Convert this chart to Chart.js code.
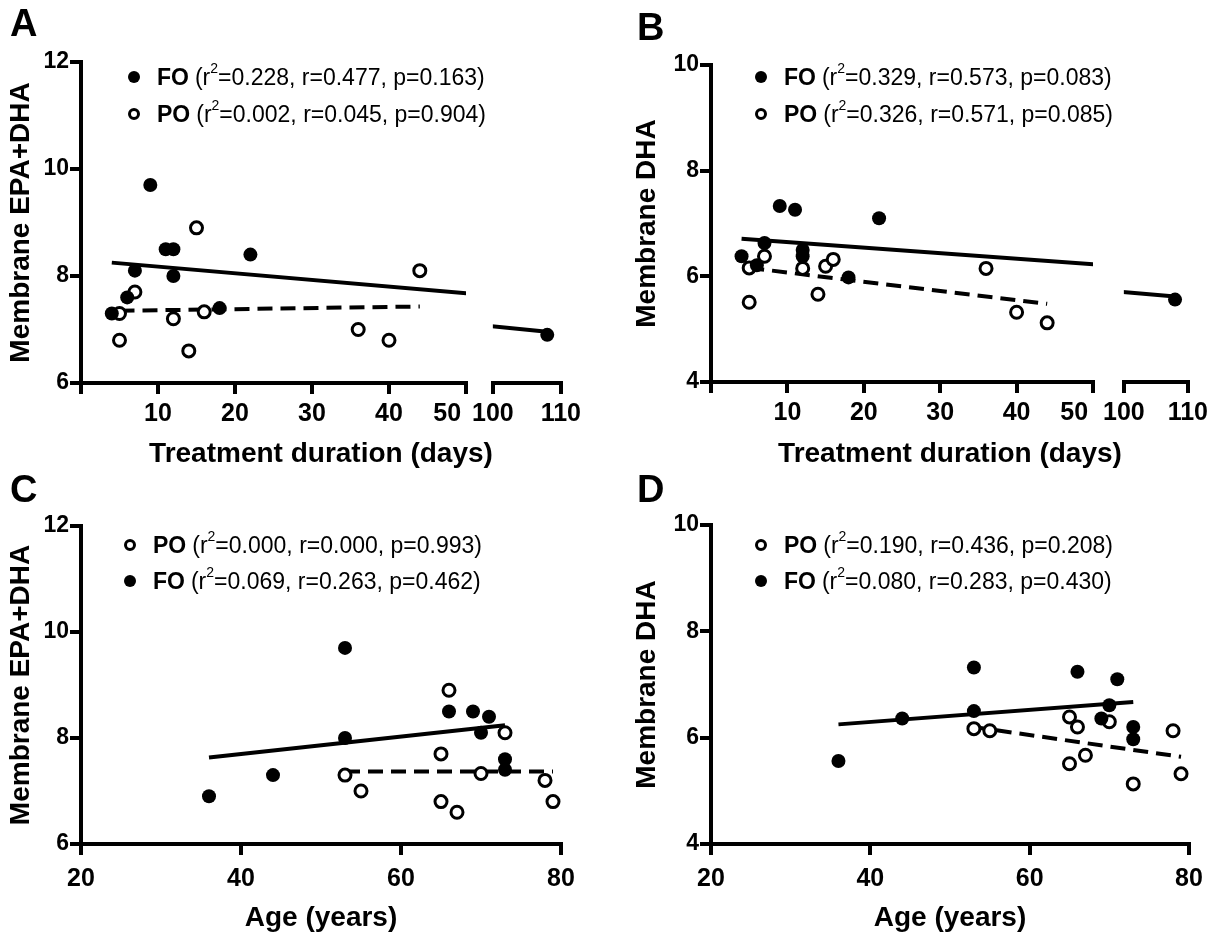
<!DOCTYPE html>
<html lang="en">
<head>
<meta charset="UTF-8">
<title>Membrane EPA+DHA and DHA vs treatment duration and age</title>
<script src="https://cdn.jsdelivr.net/npm/chart.js"></script>
<style>
  body { margin: 0; background: #fff; font-family: "Liberation Sans", Arial, sans-serif; color: #000; }
  #fig { position: relative; width: 1217px; height: 936px; overflow: hidden; background: #fff; }
  canvas { position: absolute; }
  .letter { position: absolute; font-size: 38px; font-weight: bold; line-height: 1; }
  .row { position: absolute; display: flex; align-items: center; height: 26px; font-size: 23px; white-space: nowrap; }
  .row b { margin-right: 6px; }
  .row sup { font-size: 14px; position: relative; top: -9px; vertical-align: baseline; }
  .mk { width: 12px; height: 12px; border-radius: 50%; box-sizing: border-box; margin-right: 17px; }
  .mk.fo { background: #000; }
  .mk.po { background: #fff; border: 3px solid #000; }
  .xtitle { position: absolute; font-size: 28px; font-weight: bold; transform: translate(-50%, -50%); white-space: nowrap; }
</style>
</head>
<body>
<div id="fig">
  <canvas id="aLeft" width="506" height="440" style="left:0px;top:30px"></canvas>
  <canvas id="aRight" width="119" height="440" style="left:467px;top:30px"></canvas>
  <canvas id="bLeft" width="503" height="439" style="left:630px;top:30px"></canvas>
  <canvas id="bRight" width="115" height="439" style="left:1098px;top:30px"></canvas>
  <canvas id="cChart" width="586" height="445" style="left:0px;top:490px"></canvas>
  <canvas id="dChart" width="584" height="445" style="left:630px;top:490px"></canvas>

  <div class="letter" style="left:10px;top:4px">A</div>
  <div class="letter" style="left:637px;top:8px">B</div>
  <div class="letter" style="left:10px;top:470px">C</div>
  <div class="letter" style="left:637px;top:470px">D</div>

  <div class="row" style="left:128px;top:64px"><span class="mk fo"></span><b>FO</b>(r<sup>2</sup>=0.228, r=0.477, p=0.163)</div>
  <div class="row" style="left:128px;top:101px"><span class="mk po"></span><b>PO</b>(r<sup>2</sup>=0.002, r=0.045, p=0.904)</div>
  <div class="row" style="left:755px;top:64px"><span class="mk fo"></span><b>FO</b>(r<sup>2</sup>=0.329, r=0.573, p=0.083)</div>
  <div class="row" style="left:755px;top:101px"><span class="mk po"></span><b>PO</b>(r<sup>2</sup>=0.326, r=0.571, p=0.085)</div>
  <div class="row" style="left:124px;top:532px"><span class="mk po"></span><b>PO</b>(r<sup>2</sup>=0.000, r=0.000, p=0.993)</div>
  <div class="row" style="left:124px;top:568px"><span class="mk fo"></span><b>FO</b>(r<sup>2</sup>=0.069, r=0.263, p=0.462)</div>
  <div class="row" style="left:755px;top:532px"><span class="mk po"></span><b>PO</b>(r<sup>2</sup>=0.190, r=0.436, p=0.208)</div>
  <div class="row" style="left:755px;top:568px"><span class="mk fo"></span><b>FO</b>(r<sup>2</sup>=0.080, r=0.283, p=0.430)</div>

  <div class="xtitle" style="left:321px;top:453px">Treatment duration (days)</div>
  <div class="xtitle" style="left:950px;top:453px">Treatment duration (days)</div>
</div>

<script>
// treatment duration (days), same subjects in A and B
const daysFO = [4, 6, 7, 9, 11, 12, 12, 18, 22, 108];
const daysPO = [5, 5, 7, 12, 14, 15, 16, 36, 40, 44];
// age (years), same subjects in C and D
const ageFO = [36, 44, 53, 53, 66, 69, 71, 70, 73, 73];
const agePO = [53, 55, 65, 66, 65, 67, 70, 73, 78, 79];

// membrane EPA+DHA
const epaDhaFO_days = [7.3, 7.6, 8.1, 9.7, 8.5, 8.5, 8.0, 7.4, 8.4, 6.9];
const epaDhaPO_days = [7.3, 6.8, 7.7, 7.2, 6.6, 8.9, 7.33, 7.0, 6.8, 8.1];
const epaDhaFO_age = [6.9, 7.3, 9.7, 8.0, 8.5, 8.5, 8.4, 8.1, 7.6, 7.4];
const epaDhaPO_age = [7.3, 7.0, 7.7, 8.9, 6.8, 6.6, 7.33, 8.1, 7.2, 6.8];

// membrane DHA
const dhaFO_days = [6.38, 6.21, 6.63, 7.33, 7.26, 6.38, 6.50, 5.98, 7.10, 5.56];
const dhaPO_days = [6.16, 5.51, 6.38, 6.15, 5.66, 6.19, 6.32, 6.15, 5.32, 5.12];
const dhaFO_age = [5.56, 6.36, 7.32, 6.5, 7.24, 6.36, 7.1, 6.61, 6.2, 5.97];
const dhaPO_age = [6.17, 6.13, 6.39, 6.2, 5.51, 5.67, 6.3, 5.13, 6.13, 5.32];

// regression line end points: [x1, x2], [y1, y2]
const fitA_FO = [[4, 108], [8.25, 6.96]];
const fitA_PO = [[5, 44], [7.35, 7.43]];
const fitB_FO = [[4, 108], [6.71, 5.62]];
const fitB_PO = [[5, 44], [6.16, 5.48]];
const fitC_FO = [[36, 73], [7.63, 8.24]];
const fitC_PO = [[53, 79], [7.37, 7.37]];
const fitD_FO = [[36, 73], [6.25, 6.67]];
const fitD_PO = [[53, 79], [6.2, 5.64]];

// condensed face for tick numbers, plain one if it is missing
const tickFamily = '"Liberation Sans Narrow", "Liberation Sans", Arial, sans-serif';

function pts(xs, ys) {
    return xs.map((x, i) => ({ x: x, y: ys[i] }));
}

function datasets(xFO, yFO, xPO, yPO, fitFO, fitPO) {
    return [
        { data: pts(xFO, yFO), pointRadius: 7, pointBackgroundColor: '#000', pointBorderWidth: 0, showLine: false, order: 0 },
        { data: pts(xPO, yPO), pointRadius: 6, pointBackgroundColor: '#fff', pointBorderColor: '#000', pointBorderWidth: 3, showLine: false, order: 0 },
        { data: pts(fitFO[0], fitFO[1]), showLine: true, pointRadius: 0, borderColor: '#000', borderWidth: 4, clip: 0, order: 1 },
        { data: pts(fitPO[0], fitPO[1]), showLine: true, pointRadius: 0, borderColor: '#000', borderWidth: 4, borderDash: [15, 8], clip: 0, order: 1 }
    ];
}

const axisGrid = { display: true, drawOnChartArea: false, drawTicks: true, tickLength: 11, lineWidth: 4, color: '#000', tickColor: '#000' };
const axisBorder = { display: true, color: '#000', width: 4 };

// left segment of a broken axis: no label at 0, the "50" pushed left off the break
function brokenLabel(v) {
    if (v === 0) return '';
    if (v === 50) return '50\u2002\u2002\u2002';
    return v;
}

function makeChart(id, set, o) {
    const yAxis = o.showY ? {
        min: o.yMin, max: o.yMax,
        ticks: { stepSize: 2, color: '#000', padding: 1, font: { family: tickFamily, size: 23, weight: 'bold' } },
        grid: axisGrid, border: axisBorder,
        title: { display: true, text: o.yTitle, color: '#000', padding: { top: o.yTitlePad, bottom: 0 },
                 font: { family: 'Liberation Sans', size: 28, weight: 'bold' } },
        afterFit: s => { s.width = 81; }
    } : { display: false, min: o.yMin, max: o.yMax };

    return new Chart(document.getElementById(id), {
        type: 'scatter',
        data: { datasets: set },
        options: {
            responsive: false,
            animation: false,
            layout: { padding: o.pad },
            plugins: { legend: { display: false }, tooltip: { enabled: false } },
            scales: {
                x: {
                    type: 'linear', min: o.xMin, max: o.xMax,
                    ticks: { stepSize: o.xStep, color: '#000', padding: o.xPad,
                             font: { family: tickFamily, size: 25, weight: 'bold' },
                             callback: o.broken ? brokenLabel : (v => v) },
                    grid: axisGrid, border: axisBorder,
                    title: { display: !!o.xTitle, text: o.xTitle || '', color: '#000', padding: { top: 0, bottom: 0 },
                             font: { family: 'Liberation Sans', size: 28, weight: 'bold' } },
                    afterFit: s => { s.height = o.xH; }
                },
                y: yAxis
            }
        }
    });
}

const setA = () => datasets(daysFO, epaDhaFO_days, daysPO, epaDhaPO_days, fitA_FO, fitA_PO);
const setB = () => datasets(daysFO, dhaFO_days, daysPO, dhaPO_days, fitB_FO, fitB_PO);

makeChart('aLeft', setA(), { showY: true, yMin: 6, yMax: 12, yTitle: 'Membrane EPA+DHA', yTitlePad: 4,
    xMin: 0, xMax: 50, xStep: 10, xPad: 5, xH: 87, broken: true, pad: { top: 32, left: 0, right: 40, bottom: 0 } });
makeChart('aRight', setA(), { showY: false, yMin: 6, yMax: 12,
    xMin: 100, xMax: 110, xStep: 10, xPad: 5, xH: 87, pad: { top: 32, left: 25, right: 25, bottom: 0 } });

makeChart('bLeft', setB(), { showY: true, yMin: 4, yMax: 10, yTitle: 'Membrane DHA', yTitlePad: 0,
    xMin: 0, xMax: 50, xStep: 10, xPad: 5, xH: 87, broken: true, pad: { top: 35, left: 0, right: 40, bottom: 0 } });
makeChart('bRight', setB(), { showY: false, yMin: 4, yMax: 10,
    xMin: 100, xMax: 110, xStep: 10, xPad: 5, xH: 87, pad: { top: 35, left: 25, right: 25, bottom: 0 } });

makeChart('cChart', datasets(ageFO, epaDhaFO_age, agePO, epaDhaPO_age, fitC_FO, fitC_PO),
    { showY: true, yMin: 6, yMax: 12, yTitle: 'Membrane EPA+DHA', yTitlePad: 4,
      xMin: 20, xMax: 80, xStep: 20, xPad: 9, xH: 91, xTitle: 'Age (years)', pad: { top: 36, left: 0, right: 25, bottom: 0 } });

makeChart('dChart', datasets(ageFO, dhaFO_age, agePO, dhaPO_age, fitD_FO, fitD_PO),
    { showY: true, yMin: 4, yMax: 10, yTitle: 'Membrane DHA', yTitlePad: 0,
      xMin: 20, xMax: 80, xStep: 20, xPad: 9, xH: 91, xTitle: 'Age (years)', pad: { top: 35, left: 0, right: 25, bottom: 0 } });
</script>
</body>
</html>
